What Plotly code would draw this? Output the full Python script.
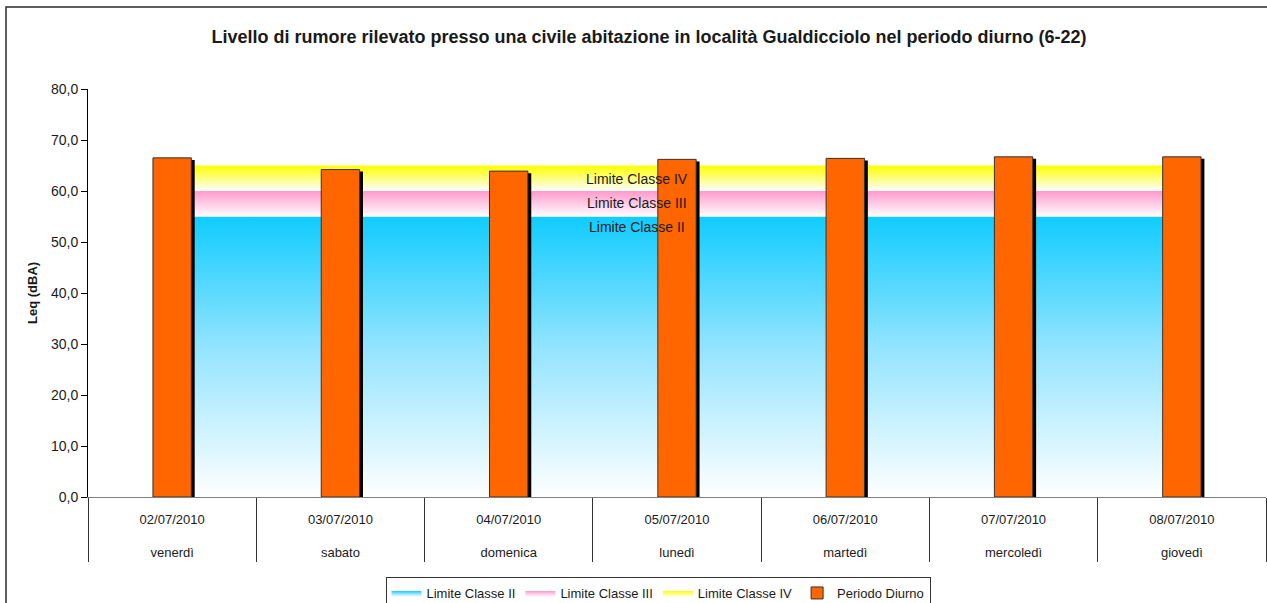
import plotly.graph_objects as go

# Measurement days and noise levels (Leq, dBA) for the daytime period
dates = ["02/07/2010", "03/07/2010", "04/07/2010", "05/07/2010",
         "06/07/2010", "07/07/2010", "08/07/2010"]
weekdays = ["venerdì", "sabato", "domenica", "lunedì", "martedì", "mercoledì", "giovedì"]
leq_diurno = [66.5, 64.2, 63.9, 66.2, 66.4, 66.7, 66.7]

# Daytime emission limits for acoustic classes II, III and IV
limite_II = [55.0] * 7
limite_III = [60.0] * 7
limite_IV = [65.0] * 7

FONT = "Liberation Sans, Arial, sans-serif"
TXT = "#1a1a1a"

# Plot area geometry in pixels
W, H = 1267, 603
ML, MR, MT, MB = 88, 1, 89, 106
PW, PH = W - ML - MR, H - MT - MB


def px_x(px):
    """Horizontal pixel position -> paper coordinate."""
    return (px - ML) / PW


def px_y(px):
    """Vertical pixel position (from top) -> paper coordinate."""
    return (PH + MT - px) / PH


fig = go.Figure()

# Limit bands (stacked areas with vertical gradient) on the base subplot
fig.add_trace(go.Scatter(
    x=dates, y=limite_II, name="Limite Classe II", mode="lines",
    line=dict(width=0), fill="tozeroy",
    fillgradient=dict(type="vertical", start=0, stop=55,
                      colorscale=[[0, "#ffffff"], [0.55, "#8fe3ff"], [1, "#10ccff"]]),
    hoverinfo="skip"))
fig.add_trace(go.Scatter(
    x=dates, y=limite_III, name="Limite Classe III", mode="lines",
    line=dict(width=0), fill="tonexty",
    fillgradient=dict(type="vertical", start=55, stop=60,
                      colorscale=[[0, "#ffffff"], [1, "#ff99cc"]]),
    hoverinfo="skip"))
fig.add_trace(go.Scatter(
    x=dates, y=limite_IV, name="Limite Classe IV", mode="lines",
    line=dict(width=0), fill="tonexty",
    fillgradient=dict(type="vertical", start=60, stop=65,
                      colorscale=[[0, "#ffffff"], [1, "#ffff00"]]),
    hoverinfo="skip"))

# Bars on an overlaid subplot so they sit above the bands
BAR_W = 0.228
fig.add_trace(go.Bar(
    x=dates, y=[v - 0.4 for v in leq_diurno], xaxis="x2", yaxis="y2",
    width=BAR_W, offset=-BAR_W / 2 + 0.02, marker=dict(color="#000000", line=dict(width=0)),
    showlegend=False, hoverinfo="skip"))
fig.add_trace(go.Bar(
    x=dates, y=leq_diurno, name="Periodo Diurno", xaxis="x2", yaxis="y2",
    width=BAR_W, offset=-BAR_W / 2,
    marker=dict(color="#ff6600", line=dict(color="#333333", width=1))))

# Band labels
for txt, yv in [("Limite Classe IV", 62.4), ("Limite Classe III", 57.6), ("Limite Classe II", 53.0)]:
    fig.add_annotation(x=2.76, y=yv, xref="x", yref="y", text=txt, showarrow=False,
                       font=dict(family=FONT, size=14, color=TXT))

# Y axis title
fig.add_annotation(x=px_x(32), y=0.5, xref="paper", yref="paper", text="<b>Leq (dBA)</b>",
                   xanchor="center", yanchor="middle",
                   textangle=-90, showarrow=False, font=dict(family=FONT, size=13, color=TXT))

# Outer chart border
fig.add_shape(type="rect", xref="paper", yref="paper",
              x0=px_x(6), y0=px_y(7), x1=1.2, y1=-0.5,
              line=dict(color="#2a2a2a", width=1.5), fillcolor="rgba(0,0,0,0)", layer="below")

ticktext = [f"{d}<br><br>{w}" for d, w in zip(dates, weekdays)]

fig.update_layout(
    width=W, height=H,
    margin=dict(l=ML, r=MR, t=MT, b=MB, autoexpand=False),
    paper_bgcolor="white", plot_bgcolor="white",
    separators=",.",
    barmode="overlay",
    font=dict(family=FONT, size=13, color=TXT),
    title=dict(text="<b>Livello di rumore rilevato presso una civile abitazione in località Gualdicciolo nel periodo diurno (6-22)</b>",
               x=649 / W, xanchor="center", y=1 - 37 / H, yanchor="middle",
               font=dict(family=FONT, size=18, color=TXT)),
    xaxis=dict(type="category", range=[-0.5, 6.5], tickvals=dates, ticktext=ticktext,
               ticks="", showgrid=False, zeroline=False, automargin=False,
               ticklabelstandoff=10,
               showline=True, linecolor="#808080", linewidth=1,
               tickfont=dict(family=FONT, size=13, color=TXT)),
    yaxis=dict(range=[0, 80], tickvals=[0, 10, 20, 30, 40, 50, 60, 70, 80], tickformat=".1f",
               ticks="outside", ticklen=6, tickcolor="#000000", automargin=False,
               showline=True, linecolor="#000000", linewidth=1,
               showgrid=False, zeroline=False,
               tickfont=dict(family=FONT, size=14, color=TXT)),
    xaxis2=dict(type="category", overlaying="x", matches="x", anchor="y2", side="bottom",
                range=[-0.5, 6.5], tickson="boundaries", ticks="outside", ticklen=64,
                tickcolor="#333333", tickwidth=1, showticklabels=False, automargin=False,
                showgrid=False, zeroline=False, showline=False),
    yaxis2=dict(overlaying="y", matches="y", anchor="x2", range=[0, 80],
                visible=False, showgrid=False, zeroline=False),
    legend=dict(orientation="h", x=px_x(658), xanchor="center",
                y=px_y(577), yanchor="top",
                bordercolor="#333333", borderwidth=1, bgcolor="white",
                itemwidth=30, traceorder="normal",
                font=dict(family=FONT, size=13, color=TXT)),
    showlegend=True,
)

fig.write_html("out.html")
